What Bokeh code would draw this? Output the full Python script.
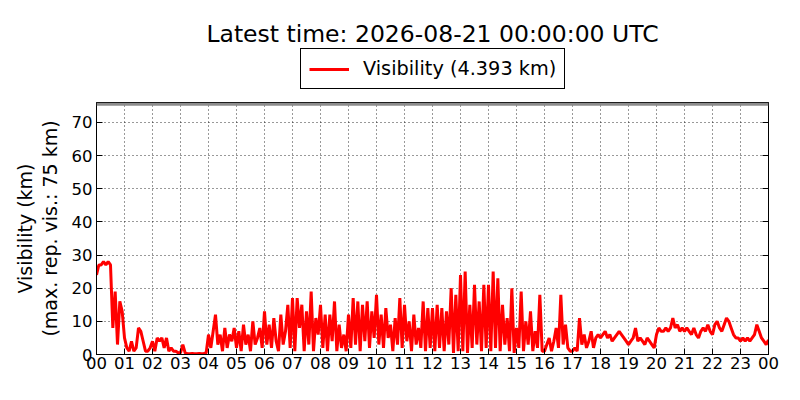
import numpy as np
from bokeh.plotting import figure
from bokeh.models import FixedTicker, LinearAxis, Legend, LegendItem, BoxAnnotation, Range1d, Label
from bokeh.layouts import column
from bokeh.embed import file_html
from bokeh.resources import INLINE

title_text = "Latest time: 2026-08-21 00:00:00 UTC"
y_label = "Visibility (km)\n(max. rep. vis.: 75 km)"
max_reported_vis = 75
step_minutes = 5
hour_labels = [f"{h % 24:02d}" for h in range(25)]
y_ticks = [0, 10, 20, 30, 40, 50, 60, 70]

# visibility in km, one row per hour (5-minute steps), final value at 24:00
visibility_km = [
    24, 27, 27, 28, 27, 28, 27, 8, 19, 3, 16, 13,
    5, 2, 1, 4, 1, 2, 8, 7, 4, 1, 1, 2,
    4, 1, 5, 4, 5, 2, 5, 1, 2, 1, 1, 0.5,
    0.5, 3, 0.5, 0.2, 0.2, 0.3, 0.2, 0.2, 0.3, 0.2, 0.3, 0.5,
    6, 2, 7, 12, 3, 6, 1, 8, 2, 6, 4, 8,
    2, 7, 1, 9, 3, 6, 1, 10, 3, 5, 8, 2,
    13, 3, 9, 2, 11, 4, 1, 12, 3, 7, 15, 2,
    17, 1, 17, 8, 15, 1, 13, 3, 19, 1, 11, 6,
    15, 2, 12, 1, 12, 4, 16, 1, 9, 2, 6, 1,
    12, 2, 17, 3, 16, 1, 15, 4, 16, 2, 13, 5,
    18, 3, 12, 2, 14, 5, 9, 1, 11, 3, 17, 2,
    15, 4, 10, 1, 12, 3, 8, 2, 16, 1, 14, 2,
    14, 1, 15, 2, 14, 1, 13, 3, 20, 0.5, 18, 1,
    24, 1, 25, 0.5, 15, 2, 21, 3, 16, 1, 21, 2,
    21, 1, 25, 2, 23, 1, 15, 3, 11, 1, 20, 0.5,
    8, 2, 19, 1, 10, 3, 13, 1, 7, 2, 18, 1,
    1, 3, 5, 1, 4, 8, 2, 18, 3, 9, 2, 1,
    1, 2, 1, 11, 3, 6, 2, 4, 7, 2, 5, 6,
    5, 6, 7, 5, 6, 4, 5, 6, 7, 6, 5, 4,
    3, 4, 5, 8, 4, 5, 4, 3, 5, 4, 3, 2,
    6, 8, 7, 7, 8, 7, 8, 11, 8, 9, 7, 8,
    7, 8, 7, 6, 8, 6, 5, 7, 8, 7, 9, 7,
    6, 9, 10, 8, 7, 9, 11, 10, 8, 6, 5, 5,
    4, 5, 4, 5, 4, 5, 6, 9, 7, 5, 4, 3,
    4.393,
]
time_hours = [i * step_minutes / 60 for i in range(len(visibility_km))]

FONT = "DejaVu Sans"
W = 784
TOP_H = 95
MAIN_H = 289
FRAME_L, FRAME_R = 96, 768   # frame edges in page pixels (frames are aligned in the column)

# ---- header figure: title + legend (its frame is aligned with the main frame) ----
head = figure(width=W, height=TOP_H, output_backend="svg", toolbar_location=None,
              x_range=Range1d(FRAME_L, FRAME_R), y_range=Range1d(0, TOP_H),
              x_axis_type=None, y_axis_type=None,
              min_border=0, min_border_left=0, min_border_right=0,
              min_border_top=0, min_border_bottom=0,
              background_fill_color="white", border_fill_color="white")
head.outline_line_color = None
head.grid.visible = False
head.add_layout(Label(x=(FRAME_L + FRAME_R) / 2, y=TOP_H - 33, text=title_text, text_align="center",
                      text_baseline="middle", text_font=FONT, text_font_size="23.5px",
                      text_color="black"))
legend_line = head.line(x=np.array([np.nan]), y=np.array([np.nan]), color="red", line_width=3)
legend = Legend(items=[LegendItem(label=f"Visibility ({visibility_km[-1]:.3f} km)", renderers=[legend_line])],
                location=(300 - FRAME_L, TOP_H - 89), orientation="horizontal",
                border_line_color="black", border_line_width=1, border_line_alpha=1,
                label_text_font=FONT, label_text_font_size="19.3px", label_text_color="black",
                glyph_width=40, glyph_height=18, label_standoff=14, label_height=18,
                padding=8, margin=0, spacing=0,
                background_fill_alpha=1)
head.add_layout(legend, "center")

# ---- main figure ----
p = figure(width=W, height=MAIN_H, output_backend="svg", toolbar_location=None,
           x_range=Range1d(0, 24), y_range=Range1d(0, 76),
           min_border_left=FRAME_L, min_border_right=W - FRAME_R, min_border_top=7, min_border_bottom=30,
           background_fill_color="white", border_fill_color="white")

p.outline_line_color = "black"
p.outline_line_width = 1
p.outline_line_alpha = 1

band = BoxAnnotation(bottom=max_reported_vis, top=76, fill_color="gray", fill_alpha=0.9, line_color=None)
p.add_layout(band)

r = p.line(time_hours, visibility_km, color="red", line_width=3)

for ax in (p.xaxis[0], p.yaxis[0]):
    ax.major_label_text_font = FONT
    ax.major_label_text_font_size = "16.5px"
    ax.major_label_text_color = "black"
    ax.major_tick_in = 6
    ax.major_tick_out = 0
    ax.minor_tick_line_color = None
    ax.axis_line_color = "black"
    ax.major_tick_line_color = "black"

p.xaxis.ticker = FixedTicker(ticks=list(range(25)))
p.xaxis.major_label_overrides = {i: hour_labels[i] for i in range(25)}
p.xaxis.major_label_standoff = 2

p.yaxis.ticker = FixedTicker(ticks=y_ticks)
p.yaxis.major_label_standoff = 4
p.yaxis.axis_label = y_label
p.yaxis.axis_label_text_font = FONT
p.yaxis.axis_label_text_font_size = "19px"
p.yaxis.axis_label_text_font_style = "normal"
p.yaxis.axis_label_text_color = "black"
p.yaxis.axis_label_text_line_height = 1.1
p.yaxis.axis_label_standoff = 8

right = LinearAxis(ticker=FixedTicker(ticks=y_ticks),
                   major_label_overrides={t: "" for t in y_ticks},
                   major_tick_in=6, major_tick_out=0, minor_tick_line_color=None,
                   axis_line_color="black", major_label_standoff=0)
p.add_layout(right, "right")

p.grid.grid_line_color = "black"
p.grid.grid_line_dash = "1 3"
p.grid.grid_line_alpha = 0.8
p.xgrid.ticker = FixedTicker(ticks=list(range(25)))
p.ygrid.ticker = FixedTicker(ticks=y_ticks)

layout = column(head, p, spacing=0)
open("out.html", "w").write(file_html(layout, INLINE))
